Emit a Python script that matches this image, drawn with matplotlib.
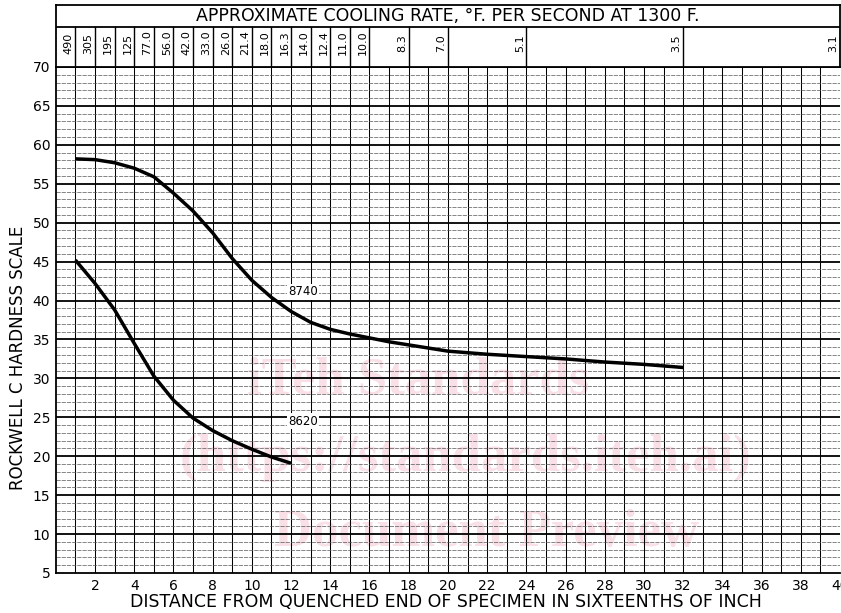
import numpy as np
import matplotlib
matplotlib.use("Agg")
import matplotlib.pyplot as plt

# --- data ---
pos_8740 = [1, 2, 3, 4, 5, 6, 7, 8, 9, 10, 11, 12, 13, 14, 15, 16, 17, 18, 19, 20,
            22, 24, 26, 28, 30, 32]
hrc_8740 = [58.2, 58.1, 57.7, 57.0, 55.9, 53.8, 51.5, 48.7, 45.4, 42.6, 40.4, 38.6,
            37.2, 36.3, 35.7, 35.2, 34.7, 34.3, 33.9, 33.5, 33.1, 32.8, 32.5, 32.1,
            31.8, 31.4]

pos_8620 = [1, 2, 3, 4, 5, 6, 7, 8, 9, 10, 11, 12]
hrc_8620 = [45.2, 42.2, 38.8, 34.5, 30.3, 27.2, 24.9, 23.3, 22.0, 20.9, 19.9, 19.1]

rate_pos = [1, 2, 3, 4, 5, 6, 7, 8, 9, 10, 11, 12, 13, 14, 15, 16, 18, 20, 24, 32, 40]
rate_lbl = ["490", "305", "195", "125", "77.0", "56.0", "42.0", "33.0", "26.0", "21.4",
            "18.0", "16.3", "14.0", "12.4", "11.0", "10.0", "8.3", "7.0", "5.1", "3.5", "3.1"]

yticks = list(range(5, 75, 5))
xticks = list(range(2, 42, 2))

W, H = 841, 613
fig = plt.figure(figsize=(W / 100, H / 100), dpi=100)
fig.patch.set_facecolor("white")

x0, x1 = 55.8, 840.0
ytop, ybot = 67.0, 573.0
ax = fig.add_axes([x0 / W, 1 - ybot / H, (x1 - x0) / W, (ybot - ytop) / H])
ax.patch.set_alpha(0)
ax.set_xlim(0, 40)
ax.set_ylim(5, 70)

# watermark (sits under the grid)
wm = dict(family="Liberation Serif", weight="bold", color="#f9e0e6", ha="center",
          va="center", zorder=-1, fontsize=38)
fig.text(418 / W, 1 - 380 / H, "iTeh Standards", **wm)
fig.text(466 / W, 1 - 458 / H, "(https://standards.iteh.ai)", **wm)
fig.text(486 / W, 1 - 533 / H, "Document Preview", **wm)

# chart-paper grid
for xv in range(1, 40):
    ax.axvline(xv, color="black", lw=0.75, zorder=1)
for yv in range(6, 70):
    if yv % 5 == 0:
        ax.axhline(yv, color="black", lw=1.3, zorder=1)
    else:
        ax.axhline(yv, color="#555555", lw=0.5, ls=(0, (6, 1.5)), zorder=1)
ax.axhline(70, color="black", lw=1.3, zorder=1)

ax.plot(pos_8740, hrc_8740, color="black", lw=2.5, solid_capstyle="butt",
        solid_joinstyle="round", zorder=3)
ax.plot(pos_8620, hrc_8620, color="black", lw=2.5, solid_capstyle="butt",
        solid_joinstyle="round", zorder=3)

box = dict(facecolor="white", edgecolor="none", pad=1.0)
ax.text(12.6, 41.1, "8740", fontsize=8.5, ha="center", va="center", bbox=box, zorder=4)
ax.text(12.6, 24.5, "8620", fontsize=8.5, ha="center", va="center", bbox=box, zorder=4)

ax.set_yticks(yticks)
ax.set_xticks(xticks)
ax.tick_params(axis="both", length=0, labelsize=10, pad=4)
for s in ["top", "right"]:
    ax.spines[s].set_visible(False)
ax.spines["left"].set_linewidth(1.3)
ax.spines["bottom"].set_linewidth(1.3)

fig.text(18 / W, 1 - 358 / H, "ROCKWELL C HARDNESS SCALE", rotation=90,
         ha="center", va="center", fontsize=12)
fig.text(446 / W, 1 - 602 / H,
         "DISTANCE FROM QUENCHED END OF SPECIMEN IN SIXTEENTHS OF INCH",
         ha="center", va="center", fontsize=12.5)

# cooling-rate band on top
band_top = 5.0
bx = fig.add_axes([x0 / W, 1 - ytop / H, (x1 - x0) / W, (ytop - band_top) / H])
bx.set_xlim(0, 40)
bx.set_ylim(0, 1)
bx.set_xticks([])
bx.set_yticks([])
for s in bx.spines.values():
    s.set_linewidth(1.3)
row = (ytop - 27.0) / (ytop - band_top)
bx.axhline(row, color="black", lw=1.3)
bx.text(20, (row + 1) / 2, "APPROXIMATE COOLING RATE, \u00b0F. PER SECOND AT 1300 F.",
        ha="center", va="center", fontsize=12.5)
for p, lbl in zip(rate_pos, rate_lbl):
    bx.plot([p, p], [0, row], color="black", lw=1.0)
    bx.text(p - 0.08, row * 0.6, lbl, rotation=90, ha="right", va="center", fontsize=8)

fig.savefig("out.png", dpi=100)
